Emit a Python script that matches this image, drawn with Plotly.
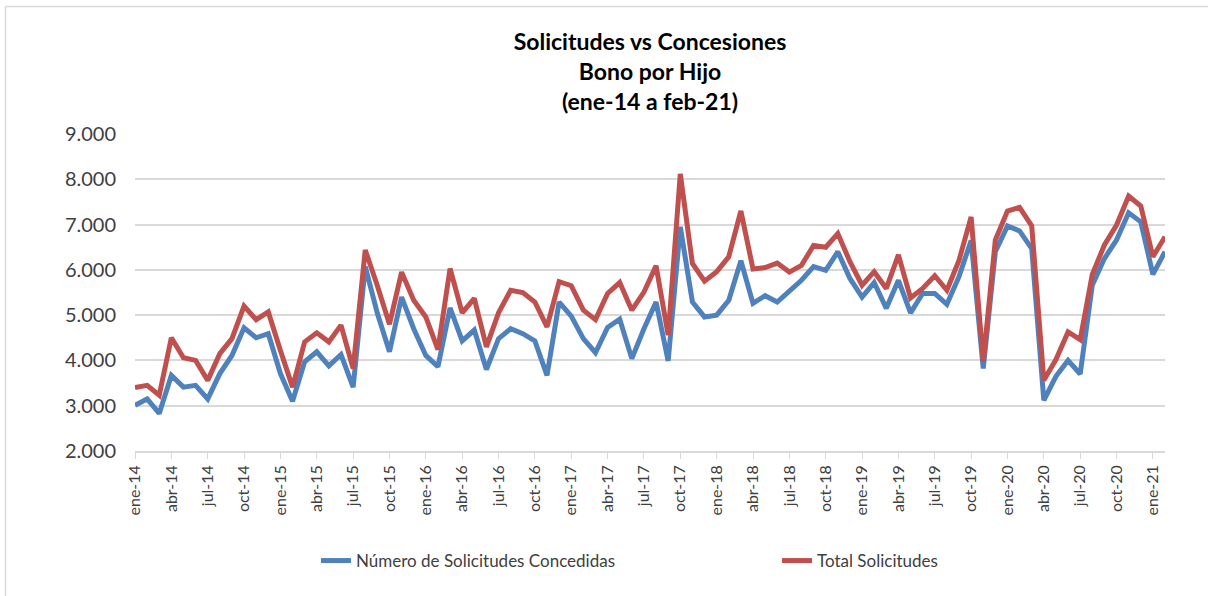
import plotly.graph_objects as go

meses = ["ene", "feb", "mar", "abr", "may", "jun", "jul", "ago", "sep", "oct", "nov", "dic"]
years = ["14", "15", "16", "17", "18", "19", "20", "21"]
categories = [f"{m}-{y}" for y in years for m in meses][:86]

concedidas = [
    3010, 3150, 2830, 3670, 3410, 3450, 3150, 3710, 4110, 4720, 4500, 4590,
    3710, 3100, 3970, 4190, 3880, 4130, 3410, 6070, 5040, 4190, 5400, 4700,
    4110, 3860, 5160, 4430, 4670, 3800, 4480, 4700, 4590, 4430, 3670, 5290,
    4980, 4480, 4170, 4730, 4910, 4040, 4700, 5290, 3990, 6950, 5290, 4960,
    5000, 5330, 6200, 5260, 5430, 5290, 5530, 5770, 6070, 5990, 6400, 5810,
    5400, 5720, 5150, 5770, 5050, 5480, 5480, 5240, 5850, 6650, 3820, 6400,
    6970, 6860, 6470, 3120, 3650, 4000, 3700, 5660, 6250, 6660, 7260, 7060,
    5900, 6400,
]
total = [
    3400, 3450, 3230, 4500, 4060, 4000, 3560, 4150, 4480, 5200, 4900, 5070,
    4220, 3410, 4410, 4610, 4410, 4780, 3820, 6440, 5650, 4800, 5950, 5330,
    4960, 4240, 6030, 5050, 5370, 4300, 5050, 5550, 5500, 5290, 4740, 5740,
    5650, 5110, 4900, 5480, 5720, 5110, 5510, 6090, 4560, 8120, 6140, 5750,
    5960, 6290, 7300, 6020, 6050, 6150, 5950, 6100, 6540, 6500, 6800, 6180,
    5660, 5960, 5590, 6330, 5380, 5590, 5870, 5550, 6210, 7170, 3970, 6660,
    7300, 7380, 6970, 3560, 4020, 4630, 4460, 5900, 6550, 6990, 7630, 7410,
    6290, 6730,
]
tick_labels = categories[::3]
y_ticks = [2000, 3000, 4000, 5000, 6000, 7000, 8000, 9000]
y_tick_text = ["2.000", "3.000", "4.000", "5.000", "6.000", "7.000", "8.000", "9.000"]

FONT = "Lato, 'Open Sans', sans-serif"
L, R, T, B = 135, 1165, 134, 451
PW, PH = R - L, B - T


def px_x(v):
    return (v - L) / PW


def px_y(v):
    return (B - v) / PH


fig = go.Figure()
fig.add_trace(go.Scatter(
    x=categories, y=concedidas, mode="lines",
    name="Número de Solicitudes Concedidas", legend="legend",
    line=dict(color="#4F81BD", width=5),
))
fig.add_trace(go.Scatter(
    x=categories, y=total, mode="lines",
    name="Total Solicitudes", legend="legend2",
    line=dict(color="#C0504D", width=5),
))

leg_common = dict(
    orientation="h", yanchor="middle", y=px_y(561), xanchor="left",
    font=dict(family=FONT, size=17, color="#404040"),
    bgcolor="rgba(0,0,0,0)",
)

border = dict(color="#d9d9d9", width=1.5)

fig.update_layout(
    width=1208, height=596,
    margin=dict(l=L, r=1208 - R, t=T, b=596 - B, autoexpand=False),
    paper_bgcolor="white", plot_bgcolor="white",
    font=dict(family=FONT, color="#404040"),
    title=dict(
        text="Solicitudes vs Concesiones<br>Bono por Hijo<br>(ene-14 a feb-21)",
        x=(L + PW / 2) / 1208, xanchor="center",
        y=1 - 50 / 596, yanchor="top",
        font=dict(family=FONT, size=23, color="black", weight="bold"),
    ),
    showlegend=True,
    legend=dict(x=px_x(316), **leg_common),
    legend2=dict(x=px_x(777), **leg_common),
    xaxis=dict(
        type="category", categoryorder="array", categoryarray=categories,
        range=[0, 85], automargin=False, fixedrange=True,
        tickmode="array", tickvals=tick_labels, ticktext=tick_labels,
        tickangle=-90, ticks="outside", ticklen=6, tickcolor="#d9d9d9",
        showline=True, linecolor="#d9d9d9", linewidth=1.5,
        showgrid=False, tickfont=dict(family=FONT, size=16, color="#404040"),
    ),
    yaxis=dict(
        range=[2000, 9000], tickmode="array", tickvals=y_ticks, ticktext=y_tick_text,
        showgrid=True, gridcolor="#d9d9d9", gridwidth=1.5, automargin=False,
        fixedrange=True,
        zeroline=False, showline=False, ticks="", ticklabelstandoff=18,
        tickfont=dict(family=FONT, size=20, color="#404040"),
    ),
    shapes=[
        dict(type="line", xref="paper", yref="paper",
             x0=px_x(5.5), x1=px_x(1210), y0=px_y(6.5), y1=px_y(6.5),
             line=border, layer="below"),
        dict(type="line", xref="paper", yref="paper",
             x0=px_x(5.5), x1=px_x(5.5), y0=px_y(6.5), y1=px_y(600),
             line=border, layer="below"),
    ],
)

fig.write_html(
    "out.html",
    config={"displayModeBar": False},
    post_script="document.body.style.margin='0';document.body.style.overflow='hidden';",
)
